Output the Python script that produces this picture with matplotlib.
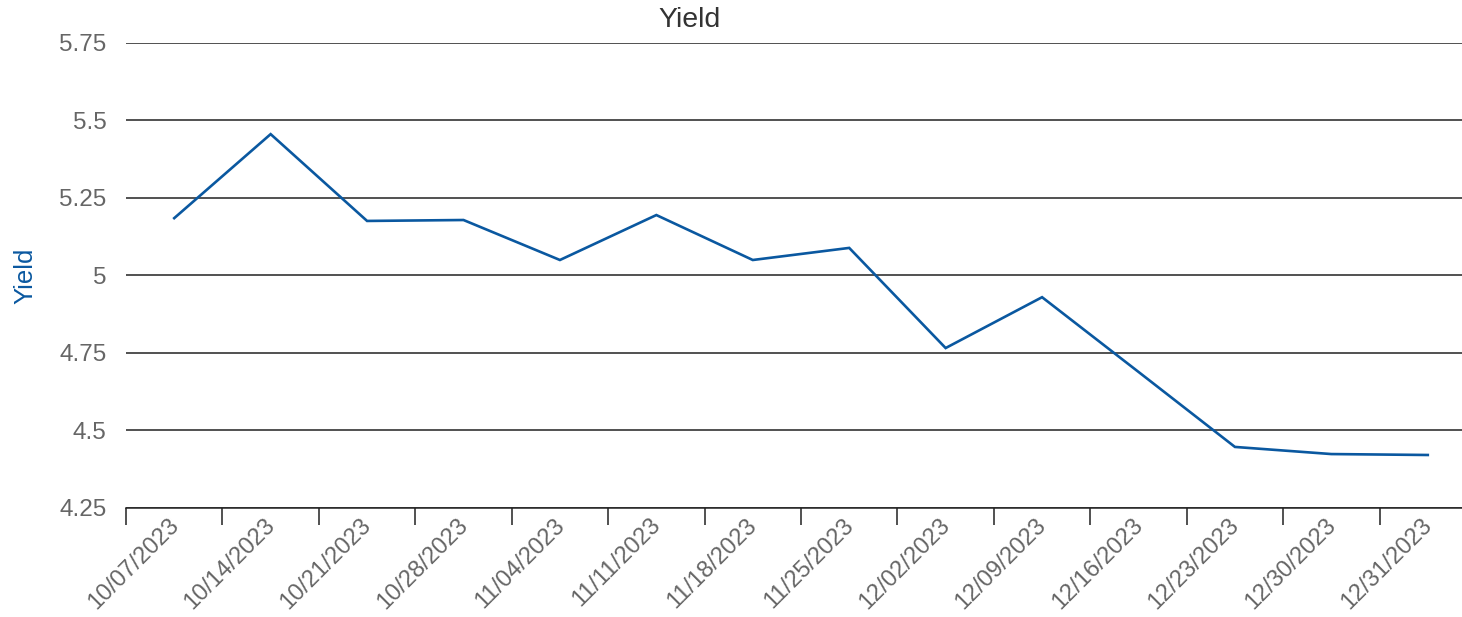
import numpy as np
import matplotlib.pyplot as plt
from matplotlib.transforms import ScaledTranslation

plt.rcParams['font.family'] = ['Liberation Sans', 'DejaVu Sans']

# Datos
fechas = ['10/07/2023', '10/14/2023', '10/21/2023', '10/28/2023', '11/04/2023',
          '11/11/2023', '11/18/2023', '11/25/2023', '12/02/2023', '12/09/2023',
          '12/16/2023', '12/23/2023', '12/30/2023', '12/31/2023']
rendimiento = [5.185, 5.456, 5.176, 5.179, 5.05, 5.195, 5.05, 5.089,
               4.766, 4.93, 4.689, 4.447, 4.424, 4.421]
y_ticks = [4.25, 4.5, 4.75, 5, 5.25, 5.5, 5.75]
y_labels = ['4.25', '4.5', '4.75', '5', '5.25', '5.5', '5.75']

W, H = 1462, 617
fig = plt.figure(figsize=(W / 100, H / 100), dpi=100)
ax = fig.add_axes([126 / W, 109 / H, 1350 / W, 465 / H])

x = np.arange(len(fechas))
ax.plot(x, rendimiento, color='#0a58a0', linewidth=1.9, solid_joinstyle='miter')

ax.set_xlim(-0.5, len(fechas) - 0.5)
ax.set_ylim(4.25, 5.75)

# Rejilla horizontal
ax.set_yticks(y_ticks)
ax.set_yticklabels(y_labels)
ax.grid(axis='y', color='#222222', linewidth=1.1)
ax.tick_params(axis='y', length=0, pad=14, labelsize=17.5, labelcolor='#666666')

# Marcas en los límites de categoría, etiquetas en el centro
ax.set_xticks(np.arange(len(fechas)) - 0.5)
ax.set_xticklabels([''] * len(fechas))
ax.set_xticks(x, minor=True)
ax.set_xticklabels(fechas, minor=True, rotation=45, ha='right', va='center',
                   rotation_mode='anchor')
ax.tick_params(axis='x', which='major', length=12, width=1.1, color='#222222',
               direction='out')
ax.tick_params(axis='x', which='minor', length=0, pad=10, labelsize=17,
               labelcolor='#666666')
for lbl in ax.get_xticklabels(minor=True):
    lbl.set_transform(lbl.get_transform() + ScaledTranslation(0.01, 0, fig.dpi_scale_trans))

for s in ['top', 'right', 'left']:
    ax.spines[s].set_visible(False)
ax.spines['bottom'].set_color('#222222')
ax.spines['bottom'].set_linewidth(1.1)

ax.set_ylabel('Yield', color='#0a58a0', fontsize=18.5)
ax.yaxis.set_label_coords(-(126 - 25) / 1350, 0.5)
ax.yaxis.label.set_va('center')

fig.text(690 / W, 1 - 20 / H, 'Yield', ha='center', va='center',
         fontsize=20.5, color='#333333')

fig.savefig('out.png', dpi=100)
